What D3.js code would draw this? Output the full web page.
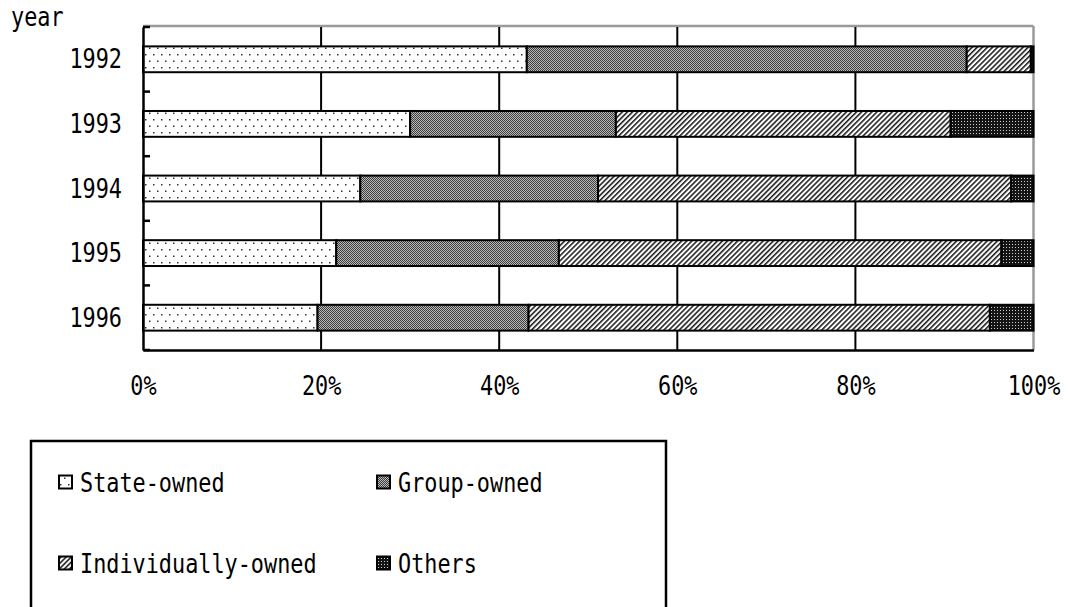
<!DOCTYPE html>
<html>
<head>
<meta charset="utf-8">
<script src="https://cdn.jsdelivr.net/npm/d3@7"></script>
<style>
  html, body { margin: 0; padding: 0; background: #fff; }
  svg { display: block; }
  text { font-family: "DejaVu Sans Mono", monospace; font-size: 26px; fill: #000; }
</style>
</head>
<body>
<svg id="chart" width="1070" height="607"></svg>
<script>
// Ownership shares by year (percent of total)
const years = ["1992", "1993", "1994", "1995", "1996"];
const seriesNames = ["State-owned", "Group-owned", "Individually-owned", "Others"];
const stateOwned = [43.1, 30.0, 24.4, 21.7, 19.6];
const groupOwned = [49.4, 23.1, 26.7, 25.0, 23.7];
const individuallyOwned = [7.2, 37.6, 46.4, 49.7, 51.8];
const others = [0.3, 9.3, 2.5, 3.6, 4.9];
const xTickValues = [0, 0.2, 0.4, 0.6, 0.8, 1.0];
const xTickLabels = ["0%", "20%", "40%", "60%", "80%", "100%"];
const yAxisTitle = "year";

const rows = years.map((y, i) => ({
  year: y,
  "State-owned": stateOwned[i],
  "Group-owned": groupOwned[i],
  "Individually-owned": individuallyOwned[i],
  "Others": others[i]
}));

const svg = d3.select("#chart");
const plot = { left: 143, right: 1033.5, top: 27, bottom: 350 };
const squeeze = 0.84; // narrow monospace look

const x = d3.scaleLinear().domain([0, 1]).range([plot.left, plot.right]);
const y = d3.scaleBand().domain(years).range([plot.top, plot.bottom])
  .paddingInner(0.6).paddingOuter(0.3);

// ---- fill patterns ----
const defs = svg.append("defs");

const pDots = defs.append("pattern").attr("id", "pat-state")
  .attr("patternUnits", "userSpaceOnUse").attr("width", 8).attr("height", 13);
pDots.append("rect").attr("width", 8).attr("height", 13).attr("fill", "#fff");
pDots.append("rect").attr("x", 1).attr("y", 2).attr("width", 1.5).attr("height", 1.5).attr("fill", "#333");
pDots.append("rect").attr("x", 5).attr("y", 8.5).attr("width", 1.5).attr("height", 1.5).attr("fill", "#333");

const pGroup = defs.append("pattern").attr("id", "pat-group")
  .attr("patternUnits", "userSpaceOnUse").attr("width", 2).attr("height", 2);
pGroup.append("rect").attr("width", 2).attr("height", 2).attr("fill", "#bababa");
pGroup.append("rect").attr("x", 0).attr("y", 0).attr("width", 1).attr("height", 1).attr("fill", "#3c3c3c");
pGroup.append("rect").attr("x", 1).attr("y", 1).attr("width", 1).attr("height", 1).attr("fill", "#3c3c3c");

const pIndiv = defs.append("pattern").attr("id", "pat-indiv")
  .attr("patternUnits", "userSpaceOnUse").attr("width", 3.6).attr("height", 10)
  .attr("patternTransform", "rotate(45)");
pIndiv.append("rect").attr("width", 3.6).attr("height", 10).attr("fill", "#fff");
pIndiv.append("rect").attr("width", 1.6).attr("height", 10).attr("fill", "#222");

const pOther = defs.append("pattern").attr("id", "pat-other")
  .attr("patternUnits", "userSpaceOnUse").attr("width", 3).attr("height", 3);
pOther.append("rect").attr("width", 3).attr("height", 3).attr("fill", "#151515");
pOther.append("rect").attr("x", 1).attr("y", 1).attr("width", 1).attr("height", 1).attr("fill", "#cfcfcf");

const fills = {
  "State-owned": "url(#pat-state)",
  "Group-owned": "url(#pat-group)",
  "Individually-owned": "url(#pat-indiv)",
  "Others": "url(#pat-other)"
};

// ---- frame: top and right borders in gray ----
svg.append("line").attr("x1", plot.left).attr("x2", plot.right)
  .attr("y1", plot.top - 1).attr("y2", plot.top - 1)
  .attr("stroke", "#9a9a9a").attr("stroke-width", 2.5);
svg.append("line").attr("x1", plot.right).attr("x2", plot.right)
  .attr("y1", plot.top - 1).attr("y2", plot.bottom)
  .attr("stroke", "#9a9a9a").attr("stroke-width", 2.5);

// ---- vertical gridlines ----
svg.append("g").selectAll("line")
  .data(xTickValues.filter(v => v > 0 && v < 1))
  .join("line")
  .attr("x1", d => x(d)).attr("x2", d => x(d))
  .attr("y1", plot.top).attr("y2", plot.bottom)
  .attr("stroke", "#000").attr("stroke-width", 2);

// ---- stacked bars ----
const stack = d3.stack().keys(seriesNames).offset(d3.stackOffsetExpand);
const layers = stack(rows);

svg.append("g").selectAll("g")
  .data(layers)
  .join("g")
  .attr("fill", d => fills[d.key])
  .selectAll("rect")
  .data(d => d)
  .join("rect")
  .attr("x", d => x(d[0]))
  .attr("width", d => x(d[1]) - x(d[0]))
  .attr("y", d => y(d.data.year))
  .attr("height", y.bandwidth())
  .attr("stroke", "#000")
  .attr("stroke-width", 2);

// ---- x axis (labels only, line along the bottom) ----
const xAxis = d3.axisBottom(x)
  .tickValues(xTickValues)
  .tickFormat((d, i) => xTickLabels[i])
  .tickSize(0).tickPadding(0);
const gx = svg.append("g").attr("transform", `translate(0,${plot.bottom})`).call(xAxis);
gx.select(".domain").attr("stroke", "#000").attr("stroke-width", 2.5);
gx.selectAll("text")
  .attr("y", 45).attr("dy", null)
  .attr("font-family", null).attr("font-size", null)
  .attr("transform", `scale(${squeeze},1)`);

// ---- y axis: categories with inward ticks at band boundaries ----
const yAxis = d3.axisLeft(y).tickSize(0).tickPadding(0);
const gy = svg.append("g").attr("transform", `translate(${plot.left},0)`).call(yAxis);
gy.select(".domain").attr("stroke", "#000").attr("stroke-width", 2.5);
gy.selectAll("text")
  .attr("x", -21 / squeeze).attr("dy", null).attr("y", 9)
  .attr("font-family", null).attr("font-size", null)
  .attr("transform", `scale(${squeeze},1)`);

const boundaries = d3.range(years.length + 1).map(i =>
  i === 0 ? plot.top : (i === years.length ? plot.bottom : y(years[i]) - y.step() * y.paddingInner() / 2));
svg.append("g").selectAll("line")
  .data(boundaries)
  .join("line")
  .attr("x1", plot.left).attr("x2", plot.left + 7)
  .attr("y1", d => d).attr("y2", d => d)
  .attr("stroke", "#000").attr("stroke-width", 2.5);

svg.append("text")
  .attr("transform", `translate(11,26) scale(${squeeze},1)`)
  .text(yAxisTitle);

// ---- legend ----
const legend = svg.append("g");
legend.append("rect")
  .attr("x", 31).attr("y", 441).attr("width", 635).attr("height", 200)
  .attr("fill", "#fff").attr("stroke", "#000").attr("stroke-width", 2.5);

const legendPos = [
  { cx: 59, cy: 482 }, { cx: 377, cy: 482 },
  { cx: 59, cy: 563 }, { cx: 377, cy: 563 }
];
const items = legend.selectAll("g.item")
  .data(seriesNames)
  .join("g")
  .attr("class", "item")
  .attr("transform", (d, i) => `translate(${legendPos[i].cx},${legendPos[i].cy})`);
items.append("rect")
  .attr("x", 0).attr("y", -6.5).attr("width", 13).attr("height", 13)
  .attr("fill", d => fills[d]).attr("stroke", "#000").attr("stroke-width", 2);
items.append("text")
  .attr("transform", `translate(21,10) scale(${squeeze},1)`)
  .text(d => d);
</script>
</body>
</html>
